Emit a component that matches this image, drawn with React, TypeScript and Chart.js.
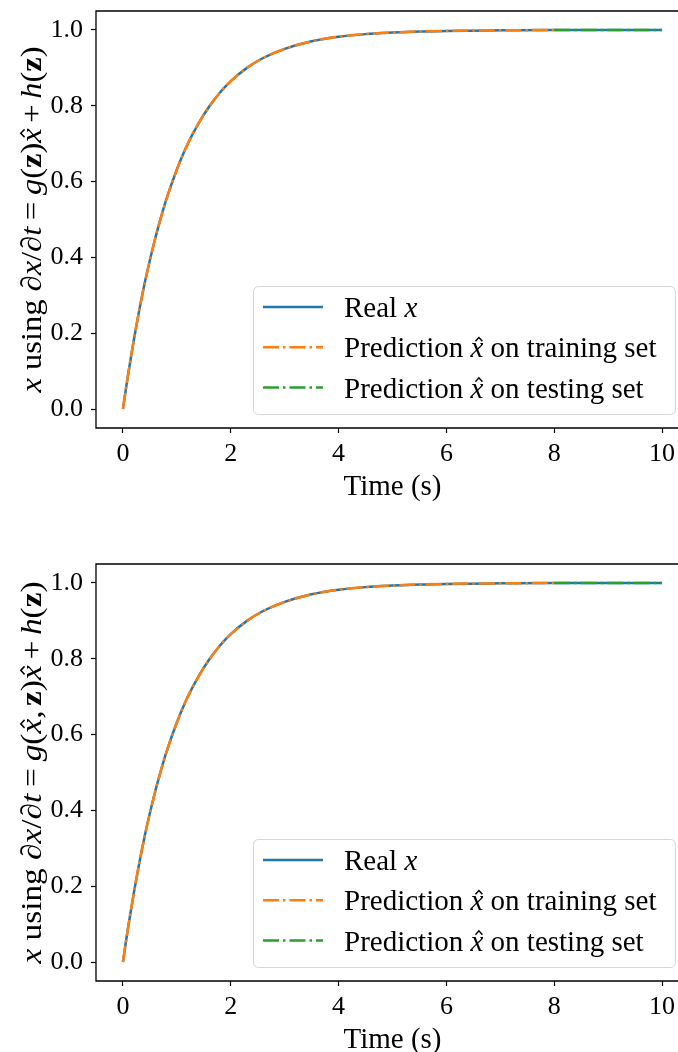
import { useEffect, useRef } from 'react';
import { Chart, registerables } from 'chart.js';
Chart.register(...registerables);

// ---- data ----
const TIME = [0, 0.05, 0.1, 0.2, 0.3, 0.4, 0.5, 0.6, 0.7, 0.8, 1.0, 1.2, 1.4, 1.6, 1.8, 2.0, 2.3, 2.6, 3.0, 3.5, 4.0, 4.5, 5.0, 5.5, 6.0, 7.0, 8.0, 9.0, 10.0];
const REAL_X = [0, 0.049, 0.095, 0.181, 0.259, 0.33, 0.393, 0.451, 0.503, 0.551, 0.632, 0.699, 0.753, 0.798, 0.835, 0.865, 0.9, 0.926, 0.95, 0.97, 0.982, 0.989, 0.993, 0.996, 0.9975, 0.999, 1.0, 1.0, 1.0];
const TRAIN_TIME = [0, 0.05, 0.1, 0.2, 0.3, 0.4, 0.5, 0.6, 0.7, 0.8, 1.0, 1.2, 1.4, 1.6, 1.8, 2.0, 2.3, 2.6, 3.0, 3.5, 4.0, 4.5, 5.0, 5.5, 6.0, 7.0, 8.0];
const TRAIN_PRED = [0, 0.049, 0.095, 0.181, 0.259, 0.33, 0.393, 0.451, 0.503, 0.551, 0.632, 0.699, 0.753, 0.798, 0.835, 0.865, 0.9, 0.926, 0.95, 0.97, 0.982, 0.989, 0.993, 0.996, 0.9975, 0.999, 1.0];
const TEST_TIME = [8.0, 9.0, 10.0];
const TEST_PRED = [1.0, 1.0, 1.0];
const X_TICKS = [0, 2, 4, 6, 8, 10];
const Y_TICKS = [0, 0.2, 0.4, 0.6, 0.8, 1.0];

const LEGEND_LABELS = ['Real', 'Prediction', 'Prediction'];
const X_TITLE = 'Time (s)';

const BLUE = '#1f77b4';
const ORANGE = '#ff7f0e';
const GREEN = '#2ca02c';
const FONT = '"Liberation Serif", "Times New Roman", serif';
const DASHDOT = [16, 4, 2.5, 4];

type Seg = { t: string; s?: 'i' | 'b' | 'r'; hat?: boolean; gap?: number };

function fontFor(s: string | undefined, size: number) {
  if (s === 'i') return `italic ${size}px ${FONT}`;
  if (s === 'b') return `bold ${size}px ${FONT}`;
  return `${size}px ${FONT}`;
}

function measureRich(ctx: CanvasRenderingContext2D, segs: Seg[], size: number) {
  let w = 0;
  for (const sg of segs) {
    ctx.font = fontFor(sg.s, size);
    w += ctx.measureText(sg.t).width + (sg.gap || 0);
  }
  return w;
}

function drawRich(ctx: CanvasRenderingContext2D, segs: Seg[], x: number, y: number, size: number) {
  let cx = x;
  ctx.textAlign = 'left';
  ctx.textBaseline = 'alphabetic';
  for (const sg of segs) {
    ctx.font = fontFor(sg.s, size);
    const w = ctx.measureText(sg.t).width;
    ctx.fillText(sg.t, cx, y);
    if (sg.hat) {
      const hx = cx + w / 2 + size * 0.07;
      ctx.save();
      ctx.beginPath();
      ctx.lineWidth = size * 0.05;
      ctx.strokeStyle = ctx.fillStyle as string;
      ctx.moveTo(hx - size * 0.12, y - size * 0.55);
      ctx.lineTo(hx, y - size * 0.68);
      ctx.lineTo(hx + size * 0.12, y - size * 0.55);
      ctx.stroke();
      ctx.restore();
    }
    cx += w + (sg.gap || 0);
  }
}

const YLABEL_TOP: Seg[] = [
  { t: 'x', s: 'i' }, { t: ' using ' }, { t: '∂' }, { t: 'x', s: 'i' }, { t: '/' }, { t: '∂' }, { t: 't', s: 'i', gap: 6 },
  { t: '=', gap: 6 }, { t: 'g', s: 'i' }, { t: '(' }, { t: 'z', s: 'b' }, { t: ')' }, { t: 'x', s: 'i', hat: true, gap: 5 },
  { t: '+', gap: 5 }, { t: 'h', s: 'i' }, { t: '(' }, { t: 'z', s: 'b' }, { t: ')' },
];
const YLABEL_BOTTOM: Seg[] = [
  { t: 'x', s: 'i' }, { t: ' using ' }, { t: '∂' }, { t: 'x', s: 'i' }, { t: '/' }, { t: '∂' }, { t: 't', s: 'i', gap: 6 },
  { t: '=', gap: 6 }, { t: 'g', s: 'i' }, { t: '(' }, { t: 'x', s: 'i', hat: true }, { t: ',', gap: 4 }, { t: 'z', s: 'b' }, { t: ')' },
  { t: 'x', s: 'i', hat: true, gap: 5 }, { t: '+', gap: 5 }, { t: 'h', s: 'i' }, { t: '(' }, { t: 'z', s: 'b' }, { t: ')' },
];

const LEGEND_ROWS: { segs: Seg[]; color: string; dash: number[] }[] = [
  { segs: [{ t: LEGEND_LABELS[0] + ' ' }, { t: 'x', s: 'i' }], color: BLUE, dash: [] },
  { segs: [{ t: LEGEND_LABELS[1] + ' ' }, { t: 'x', s: 'i', hat: true }, { t: ' on training set' }], color: ORANGE, dash: DASHDOT },
  { segs: [{ t: LEGEND_LABELS[2] + ' ' }, { t: 'x', s: 'i', hat: true }, { t: ' on testing set' }], color: GREEN, dash: DASHDOT },
];

function makeDecor(ylabel: Seg[], ylabelLen: number) {
  return {
    id: 'decor',
    afterDraw(chart: any) {
      const ctx: CanvasRenderingContext2D = chart.ctx;
      const a = chart.chartArea;
      const W = chart.width;
      ctx.save();
      // spines
      ctx.strokeStyle = '#000';
      ctx.lineWidth = 1.3;
      ctx.beginPath();
      ctx.moveTo(a.left, a.top);
      ctx.lineTo(a.left, a.bottom);
      ctx.moveTo(a.left - 0.65, a.bottom);
      ctx.lineTo(W, a.bottom);
      ctx.moveTo(a.left - 0.65, a.top);
      ctx.lineTo(W, a.top);
      ctx.stroke();

      ctx.fillStyle = '#000';
      // x title
      const cx = (a.left + a.right) / 2;
      ctx.font = `29px ${FONT}`;
      ctx.textAlign = 'center';
      ctx.textBaseline = 'alphabetic';
      ctx.fillText(X_TITLE, cx, a.bottom + 67);

      // y title (rotated)
      const size = 29;
      const nat = measureRich(ctx, ylabel, size);
      const k = ylabelLen / nat;
      ctx.save();
      ctx.translate(40.5, (a.top + a.bottom) / 2);
      ctx.rotate(-Math.PI / 2);
      ctx.scale(k, 1);
      drawRich(ctx, ylabel, -nat / 2, 0, size);
      ctx.restore();

      // legend
      const bx = a.left + 157, by = a.top + 275, bw = 422, bh = 128;
      ctx.beginPath();
      ctx.roundRect(bx + 0.5, by + 0.5, bw, bh, 5);
      ctx.fillStyle = 'rgba(255,255,255,0.8)';
      ctx.fill();
      ctx.strokeStyle = 'rgba(204,204,204,0.8)';
      ctx.lineWidth = 1;
      ctx.stroke();
      LEGEND_ROWS.forEach((row, i) => {
        const ry = by + 21 + i * 40.3;
        ctx.beginPath();
        ctx.strokeStyle = row.color;
        ctx.lineWidth = 2.5;
        ctx.lineCap = 'butt';
        ctx.setLineDash(row.dash);
        ctx.moveTo(bx + 10, ry);
        ctx.lineTo(bx + 70, ry);
        ctx.stroke();
        ctx.setLineDash([]);
        ctx.fillStyle = '#000';
        drawRich(ctx, row.segs, bx + 91, ry + 10, 29);
      });
      ctx.restore();
    },
  };
}

function pts(xs: number[], ys: number[]) {
  return xs.map((x, i) => ({ x, y: ys[i] }));
}

function Panel({ height, ylabel, ylabelLen }: { height: number; ylabel: Seg[]; ylabelLen: number }) {
  const ref = useRef<HTMLCanvasElement>(null);
  useEffect(() => {
    const canvas = ref.current!;
    const common = { tension: 0, cubicInterpolationMode: 'monotone' as const, pointRadius: 0, borderWidth: 2.5, fill: false, borderCapStyle: 'butt' as const };
    const chart = new Chart(canvas, {
      type: 'line',
      data: {
        datasets: [
          { ...common, label: 'test', data: pts(TEST_TIME, TEST_PRED), borderColor: GREEN, borderDash: DASHDOT },
          { ...common, label: 'train', data: pts(TRAIN_TIME, TRAIN_PRED), borderColor: ORANGE, borderDash: DASHDOT },
          { ...common, label: 'real', data: pts(TIME, REAL_X), borderColor: BLUE },
        ],
      },
      options: {
        responsive: false,
        animation: false,
        events: [],
        layout: { padding: { left: 0, top: 11, right: 11, bottom: 0 } },
        plugins: { legend: { display: false }, tooltip: { enabled: false } },
        scales: {
          x: {
            type: 'linear',
            min: -0.5,
            max: 10.5,
            afterBuildTicks: (s: any) => { s.ticks = X_TICKS.map((v) => ({ value: v })); },
            afterFit: (s: any) => { s.height = height - 428; s.paddingLeft = 0; s.paddingRight = 0; },
            ticks: { autoSkip: false, maxRotation: 0, padding: 6, color: '#000', font: { family: FONT, size: 26 }, callback: (v: any) => String(v) },
            grid: { display: true, drawOnChartArea: false, drawTicks: true, tickLength: 5, tickWidth: 1.2, tickColor: '#000' },
            border: { display: false },
          },
          y: {
            type: 'linear',
            min: -0.05,
            max: 1.05,
            afterBuildTicks: (s: any) => { s.ticks = Y_TICKS.map((v) => ({ value: v })); },
            afterFit: (s: any) => { s.width = 96; s.paddingTop = 0; s.paddingBottom = 0; },
            ticks: { autoSkip: false, padding: 8, color: '#000', font: { family: FONT, size: 26 }, callback: (v: any) => Number(v).toFixed(1) },
            grid: { display: true, drawOnChartArea: false, drawTicks: true, tickLength: 5, tickWidth: 1.2, tickColor: '#000' },
            border: { display: false },
          },
        },
      },
      plugins: [makeDecor(ylabel, ylabelLen)],
    } as any);
    return () => chart.destroy();
  }, [height, ylabel, ylabelLen]);
  return <canvas ref={ref} width={700} height={height} style={{ display: 'block', width: 700, height }} />;
}

export default function App() {
  return (
    <div style={{ position: 'absolute', left: 0, top: 0, width: 678, height: 1052, overflow: 'hidden', background: '#fff' }}>
      <Panel height={553} ylabel={YLABEL_TOP} ylabelLen={346} />
      <Panel height={499} ylabel={YLABEL_BOTTOM} ylabelLen={382} />
    </div>
  );
}
